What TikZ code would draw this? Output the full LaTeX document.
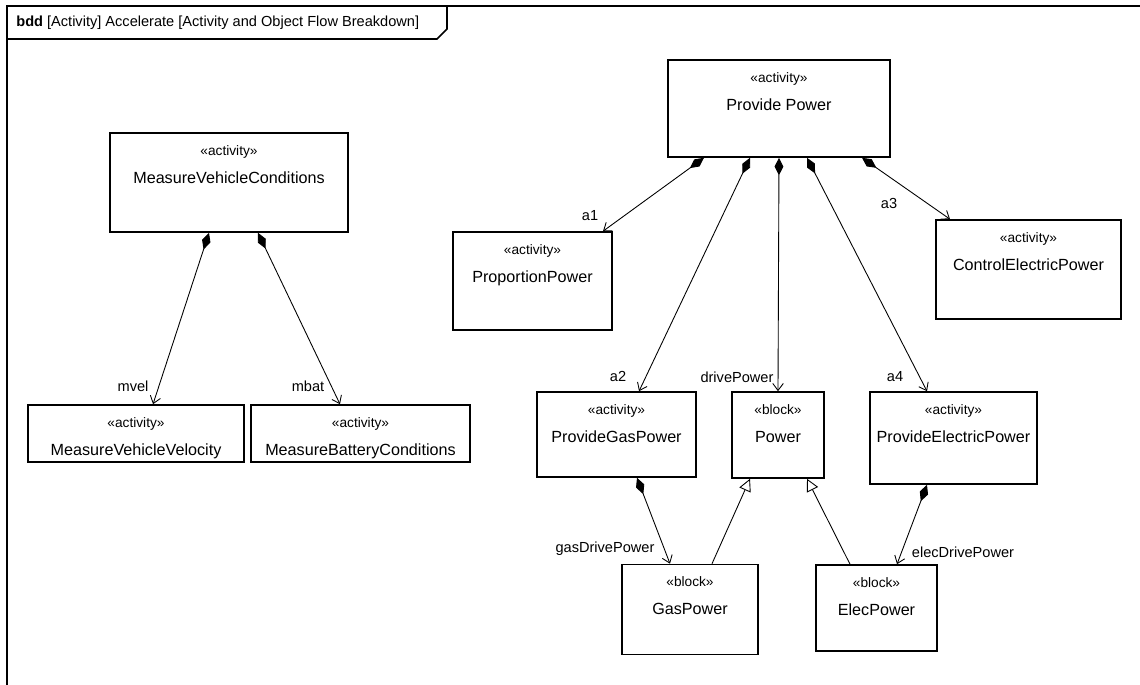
\documentclass[tikz,border=0pt]{standalone}
\usepackage{fontspec}
\setmainfont{Liberation Sans}
\usetikzlibrary{arrows.meta,calc}

\newcommand{\nmfont}{\fontsize{9.2}{11}\selectfont}
\newcommand{\stfont}{\fontsize{7.8}{9}\selectfont}

\begin{document}
\begin{tikzpicture}[x=0.02cm,y=-0.02cm,
	blk/.style 2 args={draw,line width=0.9pt,minimum width=#1*0.02cm,minimum height=#2*0.02cm,inner sep=0pt},
	ster/.style={label={[anchor=base,yshift=-0.46cm,font=\stfont]north:«#1»}},
	nm/.style={label={[anchor=base,yshift=-1.02cm,font=\nmfont]north:#1}},
	lab/.style={font=\fontsize{8.3}{10}\selectfont,inner sep=0pt},
	comp/.style={{Diamond[length=10pt,width=5pt]}-{Straight Barb[length=4pt,width=6pt]},line width=0.5pt},
	gen/.style={-{Triangle[open,length=7pt,width=7pt]},line width=0.5pt}]
		\useasboundingbox (0,0) rectangle (1140,685);
		% frame and header tab
		\draw[line width=1pt] (1140,6) -- (7,6) -- (7,685);
		\draw[line width=0.9pt] (7,39) -- (437,39) -- (447,29) -- (447,6);
		\node[anchor=west,inner sep=0pt,font=\fontsize{8.3}{10}\selectfont] (title) at (16,23) {\textbf{bdd} [Activity] Accelerate [Activity and Object Flow Breakdown]};
		
		% left group
		\node[blk={238}{99},ster=activity,nm=MeasureVehicleConditions] (mvc) at (229,182.5) {};
		\node[blk={216}{57},ster=activity,nm=MeasureVehicleVelocity] (mvv) at (136,433.5) {};
		\node[blk={219}{57},ster=activity,nm=MeasureBatteryConditions] (mbc) at (360.5,433.5) {};
		
		% right group
		\node[blk={222}{97},ster=activity,nm=Provide Power] (pp) at (779,108.5) {};
		\node[blk={159}{98},ster=activity,nm=ProportionPower] (prp) at (532.5,281) {};
		\node[blk={185}{99},ster=activity,nm=ControlElectricPower] (cep) at (1028.5,269.5) {};
		\node[blk={159}{85},ster=activity,nm=ProvideGasPower] (pgp) at (616.5,434.5) {};
		\node[blk={92}{86},ster=block,nm=Power] (pow) at (778,435) {};
		\node[blk={167}{92},ster=activity,nm=ProvideElectricPower] (pep) at (953.5,438) {};
		\node[blk={136}{90},ster=block,nm=GasPower] (gp) at (690,609.5) {};
		\node[blk={121}{86},ster=block,nm=ElecPower] (ep) at (876.5,608) {};
		
		\draw[comp] ($(mvc.south)+(-20,0)$) -- ($(mvv.north)+(17,0)$);
		\draw[comp] ($(mvc.south)+(29,0)$) -- ($(mbc.north)+(-20.5,0)$);
		\draw[comp] ($(pp.south)+(-75,0)$) -- ($(prp.north)+(70.5,0)$);
		\draw[comp] ($(pp.south)+(-29,0)$) -- ($(pgp.north)+(22.5,0)$);
		\draw[comp] (pp.south) -- (pow.north);
		\draw[comp] ($(pp.south)+(28,0)$) -- ($(pep.north)+(-26.5,0)$);
		\draw[comp] ($(pp.south)+(83,0)$) -- ($(cep.north)+(-78.5,0)$);
		\draw[comp] ($(pgp.south)+(20.5,0)$) -- ($(gp.north)+(-20,0)$);
		\draw[comp] ($(pep.south)+(-26.5,0)$) -- ($(ep.north)+(20.5,0)$);
		\draw[gen] ($(gp.north)+(22,0)$) -- ($(pow.south)+(-28,0)$);
		\draw[gen] ($(ep.north)+(-26.5,0)$) -- ($(pow.south)+(29,0)$);
		
		\node[lab] (lmvel) at (133,386) {mvel};
		\node[lab] (lmbat) at (308,386) {mbat};
		\node[lab] (la1) at (590,216) {a1};
		\node[lab] (la2) at (618,376) {a2};
		\node[lab] (ldp) at (737,377) {drivePower};
		\node[lab] (la3) at (889,203) {a3};
		\node[lab] (la4) at (895,377) {a4};
		\node[lab] (lgdp) at (605,549) {gasDrivePower};
		\node[lab] (ledp) at (963,552) {elecDrivePower};
	\end{tikzpicture}
\end{document}
